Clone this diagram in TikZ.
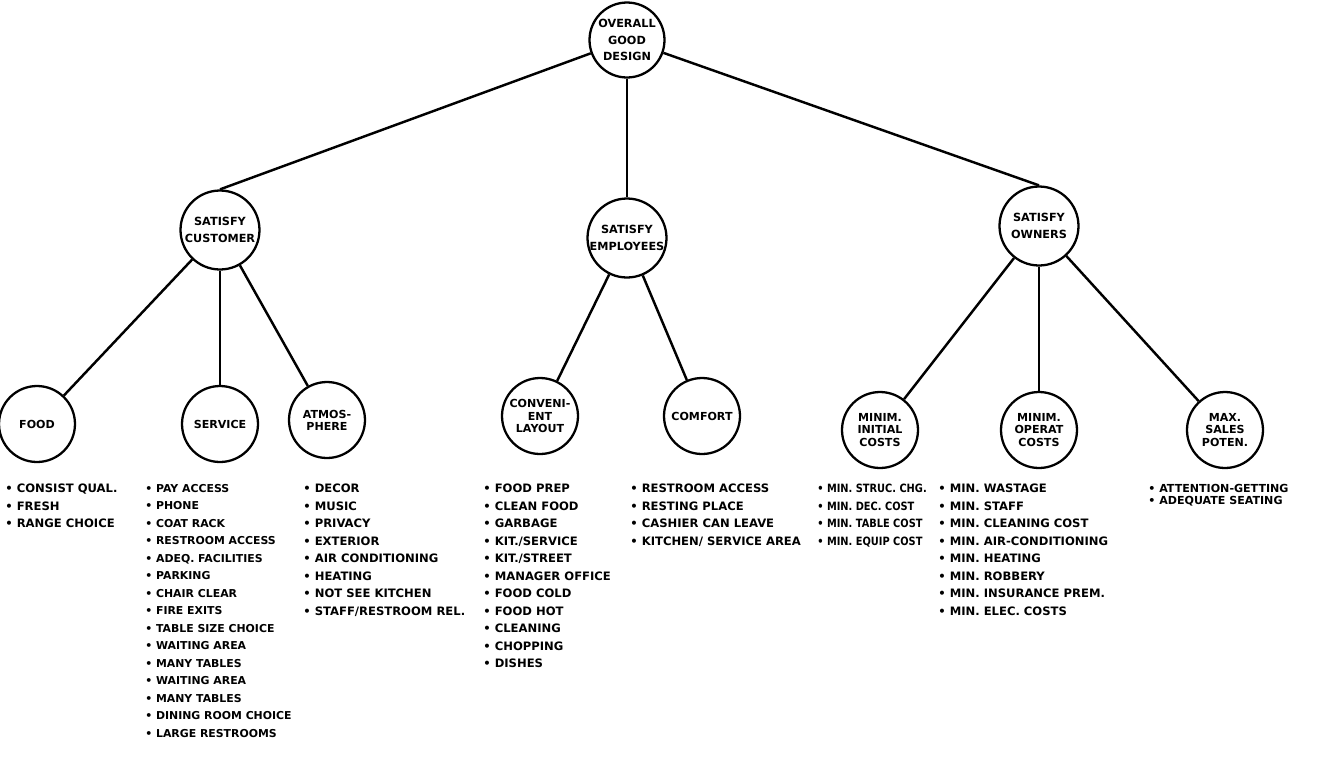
\documentclass[tikz,border=0pt]{standalone}
\usepackage{fontspec}
\setmainfont{DejaVu Sans}
\newfontfamily\narrowfont[FakeStretch=0.86,BoldFont={DejaVu Sans Bold}]{DejaVu Sans}
\begin{document}
\begin{tikzpicture}[x=0.02cm,y=-0.02cm,
  goal/.style={draw,circle,line width=1.3pt,minimum size=1.58cm,inner sep=-3pt,align=center,
    font=\bfseries\fontsize{6.4}{9.4}\selectfont},
  subgoal/.style={goal,minimum size=1.52cm,font=\bfseries\fontsize{6.3}{6.9}\selectfont},
  items/.style={anchor=north west,inner sep=0pt,align=left,
    font=\bfseries\fontsize{6.6}{9.95}\selectfont},
  link/.style={line width=1.4pt}]

\useasboundingbox (0,0) rectangle (1320,772);

% top goal
\node[goal,minimum size=1.5cm] (overall) at (627,40) {OVERALL\\GOOD\\DESIGN};

% second level
\node[goal] (customer) at (220,230) {SATISFY\\CUSTOMER};
\node[goal] (employees) at (627,238) {SATISFY\\EMPLOYEES};
\node[goal] (owners) at (1039,226) {SATISFY\\OWNERS};

% third level
\node[subgoal] (food) at (37,424) {FOOD};
\node[subgoal] (service) at (220,424) {SERVICE};
\node[subgoal] (atmos) at (327,420) {ATMOS-\\PHERE};
\node[subgoal] (layout) at (540,416) {CONVENI-\\ENT\\LAYOUT};
\node[subgoal] (comfort) at (702,416) {COMFORT};
\node[subgoal] (initial) at (880,430) {MINIM.\\INITIAL\\COSTS};
\node[subgoal] (operat) at (1039,430) {MINIM.\\OPERAT\\COSTS};
\node[subgoal] (sales) at (1225,430) {MAX.\\SALES\\POTEN.};

\draw[link] (overall)--(customer.north);
\draw[link] (overall)--(employees);
\draw[link] (overall)--(owners.north);

\draw[link] (customer)--(food);
\draw[link] (customer)--(service);
\draw[link] (customer)--(atmos);
\draw[link] (employees)--(layout);
\draw[link] (employees)--(comfort);
\draw[link] (owners)--(initial);
\draw[link] (owners)--(operat);
\draw[link] (owners)--(sales);

% attribute lists
\node[items] (foodlist) at (5,484) {• CONSIST QUAL.\\• FRESH\\• RANGE CHOICE};
\node[items,font=\bfseries\fontsize{6.2}{9.95}\selectfont] (servicelist) at (145,484) {• PAY ACCESS\\• PHONE\\• COAT RACK\\• RESTROOM ACCESS\\• ADEQ. FACILITIES\\• PARKING\\• CHAIR CLEAR\\• FIRE EXITS\\• TABLE SIZE CHOICE\\• WAITING AREA\\• MANY TABLES\\• WAITING AREA\\• MANY TABLES\\• DINING ROOM CHOICE\\• LARGE RESTROOMS};
\node[items] (atmoslist) at (303,484) {• DECOR\\• MUSIC\\• PRIVACY\\• EXTERIOR\\• AIR CONDITIONING\\• HEATING\\• NOT SEE KITCHEN\\• STAFF/RESTROOM REL.};
\node[items] (layoutlist) at (483,484) {• FOOD PREP\\• CLEAN FOOD\\• GARBAGE\\• KIT./SERVICE\\• KIT./STREET\\• MANAGER OFFICE\\• FOOD COLD\\• FOOD HOT\\• CLEANING\\• CHOPPING\\• DISHES};
\node[items] (comfortlist) at (630,484) {• RESTROOM ACCESS\\• RESTING PLACE\\• CASHIER CAN LEAVE\\• KITCHEN/ SERVICE AREA};
\node[items,font=\narrowfont\bfseries\fontsize{6.5}{9.95}\selectfont] (initiallist) at (817,484) {• MIN. STRUC. CHG.\\• MIN. DEC. COST\\• MIN. TABLE COST\\• MIN. EQUIP COST};
\node[items] (operatlist) at (938,484) {• MIN. WASTAGE\\• MIN. STAFF\\• MIN. CLEANING COST\\• MIN. AIR-CONDITIONING\\• MIN. HEATING\\• MIN. ROBBERY\\• MIN. INSURANCE PREM.\\• MIN. ELEC. COSTS};
\node[items,font=\bfseries\fontsize{6.3}{6.9}\selectfont] (saleslist) at (1148,484) {• ATTENTION-GETTING\\• ADEQUATE SEATING};

\end{tikzpicture}
\end{document}
